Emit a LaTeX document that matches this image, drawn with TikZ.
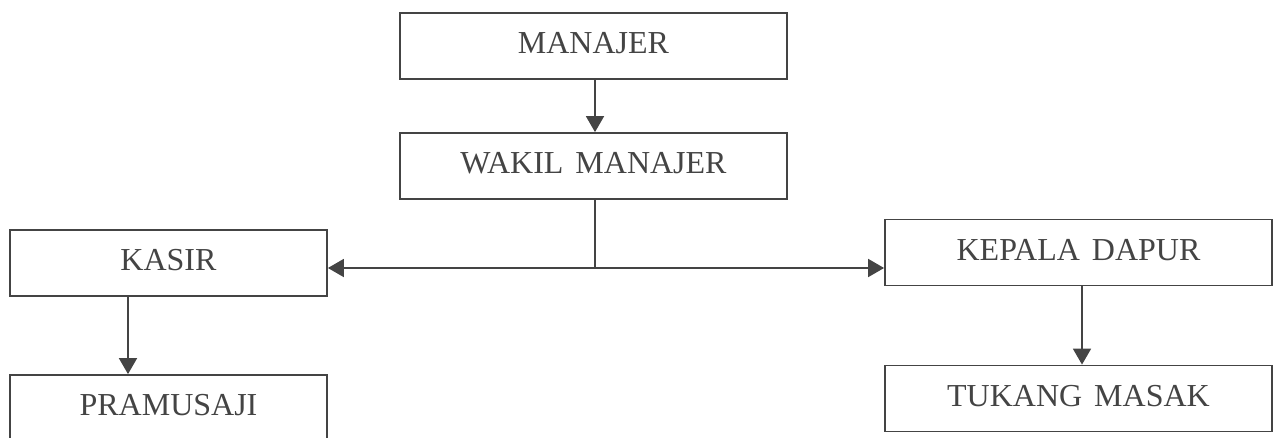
\documentclass[tikz,border=0pt]{standalone}
\usepackage{fontspec}
\setmainfont{Liberation Serif}
\usetikzlibrary{arrows.meta}
\definecolor{ink}{HTML}{444444}
\newcommand{\boxfont}{\fontsize{32}{36}\selectfont\spaceskip=12pt\relax}
\tikzset{
  orgbox/.style={draw=ink, line width=1.8pt, fill=white, text=ink, minimum height=66pt,
    inner sep=0pt, font=\boxfont, text height=22pt, text depth=7pt},
  wide/.style={minimum width=387pt},
  narrow/.style={minimum width=317pt},
  conn/.style={draw=ink, line width=1.8pt, -{Triangle[length=16pt,width=18pt]}}
}
\begin{document}
\begin{tikzpicture}[x=1pt,y=-1pt]
\useasboundingbox (0,0) rectangle (1277,437);
\clip (0,0) rectangle (1277,437);
\node[orgbox,wide] (man) at (593.5,46) {MANAJER};
\node[orgbox,wide] (wak) at (593.5,166) {WAKIL MANAJER};
\node[orgbox,narrow] (kas) at (168.5,263) {KASIR};
\node[orgbox,narrow] (pra) at (168.5,408) {PRAMUSAJI};
\node[orgbox,wide] (kep) at (1078.5,252.5) {KEPALA DAPUR};
\node[orgbox,wide] (tuk) at (1078.5,398.5) {TUKANG MASAK};
\coordinate (j) at (595,268);
\draw[conn] (man.south -| j) -- (wak.north -| j);
\draw[draw=ink, line width=1.8pt] (wak.south -| j) -- (j);
\draw[conn] (j) -- (kas.east |- j);
\draw[conn] (j) -- (kep.west |- j);
\draw[conn] (kas.south -| 128,0) -- (pra.north -| 128,0);
\draw[conn] (kep.south -| 1082,0) -- (tuk.north -| 1082,0);
\end{tikzpicture}
\end{document}
